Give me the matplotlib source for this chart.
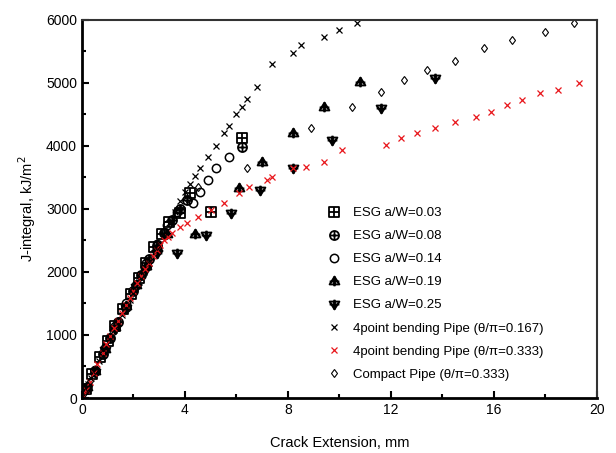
import numpy as np
import matplotlib
matplotlib.use("Agg")
import matplotlib.pyplot as plt
from matplotlib.path import Path
from matplotlib.ticker import MultipleLocator

plt.rcParams['font.family'] = ['Liberation Sans', 'DejaVu Sans']

# ---- data (crack extension mm, J-integral kJ/m^2) ----
esg003_x = [0.15, 0.4, 0.7, 1.0, 1.3, 1.6, 1.9, 2.2, 2.5, 2.8, 3.1, 3.4, 3.8, 4.2, 5.0, 6.2]
esg003_y = [150, 380, 650, 900, 1150, 1420, 1650, 1900, 2150, 2400, 2600, 2800, 2940, 3250, 2950, 4130]

esg008_x = [0.15, 0.5, 0.8, 1.1, 1.4, 1.7, 2.0, 2.3, 2.6, 2.9, 3.2, 3.5, 3.8, 4.1, 6.2]
esg008_y = [140, 430, 700, 960, 1200, 1450, 1700, 1950, 2200, 2420, 2620, 2820, 3000, 3150, 3980]

esg014_x = [0.2, 0.5, 0.9, 1.3, 1.7, 2.1, 2.5, 2.9, 3.3, 3.7, 4.3, 4.6, 4.9, 5.2, 5.7]
esg014_y = [180, 450, 800, 1150, 1500, 1800, 2150, 2450, 2750, 2950, 3100, 3270, 3460, 3650, 3830]

esg019_x = [0.2, 0.5, 0.9, 1.3, 1.7, 2.1, 2.5, 2.9, 3.3, 4.4, 6.1, 7.0, 8.2, 9.4, 10.8]
esg019_y = [170, 430, 780, 1120, 1460, 1790, 2100, 2380, 2600, 2600, 3330, 3750, 4200, 4620, 5010]

esg025_x = [0.2, 0.5, 0.9, 1.3, 1.7, 2.1, 2.5, 2.9, 3.7, 4.8, 5.8, 6.9, 8.2, 9.7, 11.6, 13.7]
esg025_y = [160, 410, 760, 1100, 1430, 1760, 2050, 2300, 2300, 2590, 2940, 3300, 3650, 4100, 4600, 5080]

p167_x = [0.05, 0.15, 0.25, 0.35, 0.5, 0.65, 0.8, 0.95, 1.1, 1.25, 1.4, 1.55, 1.7, 1.85, 2.0,
          2.2, 2.4, 2.6, 2.8, 3.0, 3.2, 3.4, 3.6, 3.8, 4.0, 4.2, 4.4, 4.6, 4.9, 5.2, 5.5, 5.7,
          6.0, 6.2, 6.4, 6.8, 7.4, 8.2, 8.5, 9.4, 10.0, 10.7]
p167_y = [50, 140, 230, 320, 450, 580, 710, 840, 960, 1080, 1200, 1320, 1440, 1560, 1680,
          1840, 2000, 2150, 2300, 2450, 2600, 2780, 2950, 3120, 3270, 3400, 3520, 3650, 3830,
          4000, 4200, 4320, 4500, 4620, 4740, 4940, 5300, 5480, 5600, 5730, 5840, 5950]

p333_x = [0.05, 0.15, 0.3, 0.45, 0.6, 0.8, 0.95, 1.1, 1.25, 1.4, 1.55, 1.7, 1.85, 2.0, 2.15,
          2.3, 2.45, 2.6, 2.75, 2.9, 3.05, 3.2, 3.35, 3.5, 3.8, 4.1, 4.5, 5.0, 5.5, 6.1, 6.5,
          7.2, 7.4, 8.2, 8.7, 9.4, 10.1, 11.8, 12.4, 13.0, 13.7, 14.5, 15.3, 15.9, 16.5, 17.1,
          17.8, 18.5, 19.3]
p333_y = [40, 120, 260, 400, 540, 720, 850, 980, 1110, 1230, 1350, 1470, 1590, 1700, 1820,
          1930, 2040, 2150, 2250, 2350, 2430, 2500, 2560, 2620, 2720, 2780, 2870, 2980, 3090,
          3250, 3350, 3460, 3500, 3650, 3670, 3750, 3940, 4020, 4130, 4210, 4290, 4380, 4460,
          4540, 4650, 4730, 4840, 4890, 5000]

cp_x = [0.1, 0.3, 0.5, 0.8, 1.1, 1.4, 1.7, 2.0, 2.3, 2.6, 2.9, 3.2, 3.5, 3.8, 4.1, 4.5, 6.4,
        8.9, 10.5, 11.6, 12.5, 13.4, 14.5, 15.6, 16.7, 18.0, 19.1]
cp_y = [90, 270, 450, 720, 980, 1230, 1480, 1720, 1960, 2200, 2420, 2620, 2820, 3000, 3160,
        3350, 3650, 4290, 4620, 4850, 5050, 5200, 5350, 5550, 5680, 5810, 5950]

labels = ["ESG a/W=0.03", "ESG a/W=0.08", "ESG a/W=0.14", "ESG a/W=0.19", "ESG a/W=0.25",
          "4point bending Pipe (θ/π=0.167)", "4point bending Pipe (θ/π=0.333)",
          "Compact Pipe (θ/π=0.333)"]

# ---- custom markers ----
def compound(*paths):
    return Path.make_compound_path(*paths)

cross = Path([(-1, 0), (1, 0), (0, -1), (0, 1)],
             [Path.MOVETO, Path.LINETO, Path.MOVETO, Path.LINETO])
square = Path([(-1, -1), (1, -1), (1, 1), (-1, 1), (-1, -1)],
              [Path.MOVETO, Path.LINETO, Path.LINETO, Path.LINETO, Path.CLOSEPOLY])
circle = Path.unit_circle()
tri_up = Path([(-1, -0.6), (1, -0.6), (0, 1), (-1, -0.6)],
              [Path.MOVETO, Path.LINETO, Path.LINETO, Path.CLOSEPOLY])
tri_dn = Path([(-1, 0.6), (1, 0.6), (0, -1), (-1, 0.6)],
              [Path.MOVETO, Path.LINETO, Path.LINETO, Path.CLOSEPOLY])
m_sqplus = compound(square, cross)
m_cplus = compound(circle, cross)
m_tuplus = compound(tri_up, cross)
m_tdplus = compound(tri_dn, cross)

fig = plt.figure(figsize=(6.16, 4.53), dpi=100)
ax = fig.add_axes([0.133, 0.1214, 0.836, 0.8346])

kw = dict(linestyle="none", markerfacecolor="none", markeredgecolor="black")
ax.plot(esg003_x, esg003_y, marker=m_sqplus, ms=6.5, mew=1.3, label=labels[0], **kw)
ax.plot(esg008_x, esg008_y, marker=m_cplus, ms=6.5, mew=1.3, label=labels[1], **kw)
ax.plot(esg014_x, esg014_y, marker="o", ms=6, mew=1.1, label=labels[2], **kw)
ax.plot(esg019_x, esg019_y, marker=m_tuplus, ms=7, mew=1.4, label=labels[3], **kw)
ax.plot(esg025_x, esg025_y, marker=m_tdplus, ms=7, mew=1.4, label=labels[4], **kw)
ax.plot(p167_x, p167_y, marker="x", ms=5, mew=0.9, linestyle="none", color="black", label=labels[5])
ax.plot(p333_x, p333_y, marker="x", ms=5, mew=0.9, linestyle="none", color="#e8161b", label=labels[6])
ax.plot(cp_x, cp_y, marker="d", ms=4.5, mew=0.8, linestyle="none", markerfacecolor="none",
        markeredgecolor="black", label=labels[7])

ax.set_xlim(0, 20)
ax.set_ylim(0, 6000)
ax.xaxis.set_major_locator(MultipleLocator(4))
ax.xaxis.set_minor_locator(MultipleLocator(2))
ax.yaxis.set_major_locator(MultipleLocator(1000))
ax.yaxis.set_minor_locator(MultipleLocator(500))
ax.tick_params(which="both", direction="in", top=False, right=False, labelsize=10, width=1.5)
ax.tick_params(which="major", length=5)
ax.tick_params(which="minor", length=3)
for s in ["left", "bottom"]:
    ax.spines[s].set_linewidth(2)
for s in ["top", "right"]:
    ax.spines[s].set_linewidth(1.5)
    ax.spines[s].set_color("#333333")

ax.set_xlabel("Crack Extension, mm", fontsize=10.5, labelpad=14)
ax.set_ylabel("J-integral, kJ/m$^2$", fontsize=10.5, labelpad=6)

leg = ax.legend(loc="lower left", bbox_to_anchor=(0.453, 0.018), frameon=False, fontsize=9.5,
                handlelength=1.2, handletextpad=0.9, labelspacing=0.82, borderpad=0.3)

fig.savefig("out.png", dpi=100)
